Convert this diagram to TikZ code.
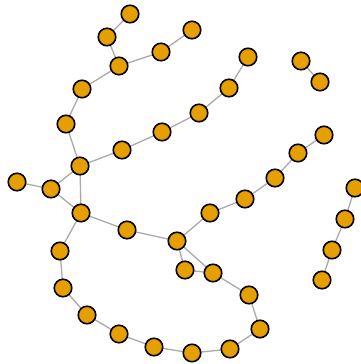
\documentclass[tikz,border=0pt]{standalone}
\usetikzlibrary{backgrounds}
\definecolor{nodefill}{HTML}{E69F00}
\definecolor{edgegray}{HTML}{AAAAAA}
\begin{document}
\begin{tikzpicture}[x=1pt,y=-1pt,
  vtx/.style={circle,draw=black,fill=nodefill,line width=1.6pt,minimum size=17.5pt,inner sep=0pt},
  lnk/.style={draw=edgegray,line width=1.3pt}]
\useasboundingbox (0,0) rectangle (360,364);
\node[vtx] (a) at (130,14) {};
\node[vtx] (b) at (107,37) {};
\node[vtx] (c) at (119,66) {};
\node[vtx] (d) at (161,52) {};
\node[vtx] (e) at (192,30) {};
\node[vtx] (f) at (82,89) {};
\node[vtx] (g) at (66,124) {};
\node[vtx] (h) at (80,166) {};
\node[vtx] (i) at (122,150) {};
\node[vtx] (j) at (162,132) {};
\node[vtx] (k) at (199,113) {};
\node[vtx] (l) at (229,88) {};
\node[vtx] (m) at (248,57) {};
\node[vtx] (n) at (17,182) {};
\node[vtx] (o) at (51,189) {};
\node[vtx] (p) at (81,213) {};
\node[vtx] (q) at (127,230) {};
\node[vtx] (r) at (177,241) {};
\node[vtx] (s) at (60,251) {};
\node[vtx] (t) at (63,288) {};
\node[vtx] (u) at (87,315) {};
\node[vtx] (v) at (119,334) {};
\node[vtx] (w) at (154,347) {};
\node[vtx] (x) at (192,353) {};
\node[vtx] (y) at (230,349) {};
\node[vtx] (z) at (260,329) {};
\node[vtx] (aa) at (249,295) {};
\node[vtx] (ab) at (213,273) {};
\node[vtx] (ac) at (185,270) {};
\node[vtx] (ad) at (210,213) {};
\node[vtx] (ae) at (245,199) {};
\node[vtx] (af) at (275,178) {};
\node[vtx] (ag) at (298,153) {};
\node[vtx] (ah) at (324,135) {};
\node[vtx] (ai) at (301,61) {};
\node[vtx] (aj) at (320,82) {};
\node[vtx] (ak) at (355,188) {};
\node[vtx] (al) at (345,219) {};
\node[vtx] (am) at (332,250) {};
\node[vtx] (an) at (322,280) {};
\begin{pgfonlayer}{background}
\draw[lnk] (a.center) -- (b.center) -- (c.center) -- (d.center) -- (e.center);
\draw[lnk] (c.center) -- (f.center) -- (g.center) -- (h.center) -- (i.center) -- (j.center) -- (k.center) -- (l.center) -- (m.center);
\draw[lnk] (n.center) -- (o.center) -- (p.center) -- (h.center) -- (o.center);
\draw[lnk] (p.center) -- (q.center) -- (r.center);
\draw[lnk] (p.center) -- (s.center) -- (t.center) -- (u.center) -- (v.center) -- (w.center) -- (x.center) -- (y.center) -- (z.center) -- (aa.center) -- (ab.center) -- (ac.center) -- (r.center) -- (ab.center);
\draw[lnk] (r.center) -- (ad.center) -- (ae.center) -- (af.center) -- (ag.center) -- (ah.center);
\draw[lnk] (ai.center) -- (aj.center);
\draw[lnk] (ak.center) -- (al.center) -- (am.center) -- (an.center);
\end{pgfonlayer}
\end{tikzpicture}
\end{document}
